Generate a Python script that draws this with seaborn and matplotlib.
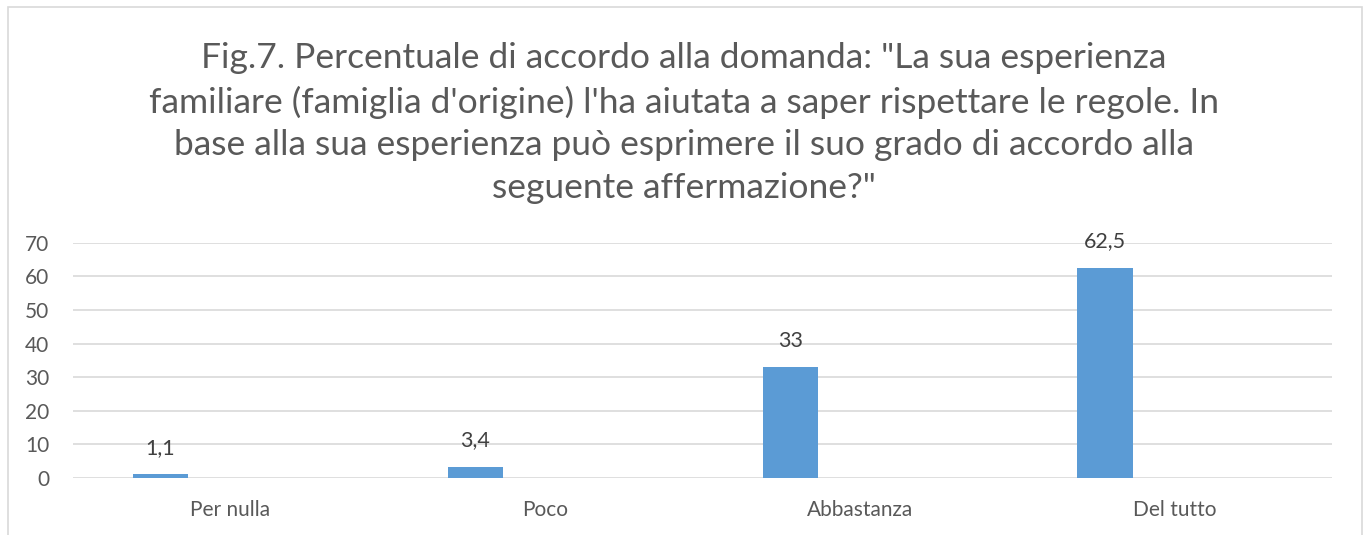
import numpy as np
import pandas as pd
import matplotlib
matplotlib.use('Agg')
import matplotlib.pyplot as plt
from matplotlib.patches import Rectangle
import seaborn as sns

categories = ['Per nulla', 'Poco', 'Abbastanza', 'Del tutto']
values = [1.1, 3.4, 33, 62.5]
labels = ['1,1', '3,4', '33', '62,5']
title = ('Fig.7. Percentuale di accordo alla domanda: "La sua esperienza\n'
         'familiare (famiglia d\'origine) l\'ha aiutata a saper rispettare le regole. In\n'
         'base alla sua esperienza può esprimere il suo grado di accordo alla\n'
         'seguente affermazione?"')

sns.set_style('white')
plt.rcParams['font.family'] = ['Lato', 'DejaVu Sans']

# Excel-style chart: one real series plus an empty second one in each group
df = pd.DataFrame({
    'cat': categories * 2,
    'val': values + [0] * len(values),
    'serie': ['s1'] * len(values) + ['s2'] * len(values),
})

fig = plt.figure(figsize=(13.68, 5.35), dpi=100)
ax = fig.add_axes([0.0534, 0.1065, 0.9206, 0.4395])

sns.barplot(data=df, x='cat', y='val', hue='serie', palette=['#5b9bd5', '#ed7d31'],
            saturation=1, width=0.889, gap=0.606, legend=False, linewidth=0, ax=ax)

ax.set_ylim(0, 70)
ax.set_xlim(-0.5, len(categories) - 0.5)
ax.set_yticks(np.arange(0, 71, 10))
ax.yaxis.grid(True, color='#d9d9d9', linewidth=1.2)
ax.set_axisbelow(True)
for s in ax.spines.values():
    s.set_visible(False)
ax.set_xlabel('')
ax.set_ylabel('')
ax.tick_params(axis='both', length=0, labelsize=15, colors='#595959')
ax.tick_params(axis='x', pad=16)
ax.tick_params(axis='y', pad=17)

bars = ax.containers[0]
ax.bar_label(bars, labels=labels, padding=12, fontsize=15.5, color='#404040')

fig.text(0.5, 0.618, title, ha='center', va='bottom', fontsize=25.5, color='#595959',
         linespacing=1.42)

fig.patches.append(Rectangle((8 / 1368, -0.01), 1354 / 1368, 1 - 7 / 535 + 0.01,
                             transform=fig.transFigure, fill=False,
                             edgecolor='#d9d9d9', linewidth=1.2))

plt.savefig('out.png', dpi=100)
